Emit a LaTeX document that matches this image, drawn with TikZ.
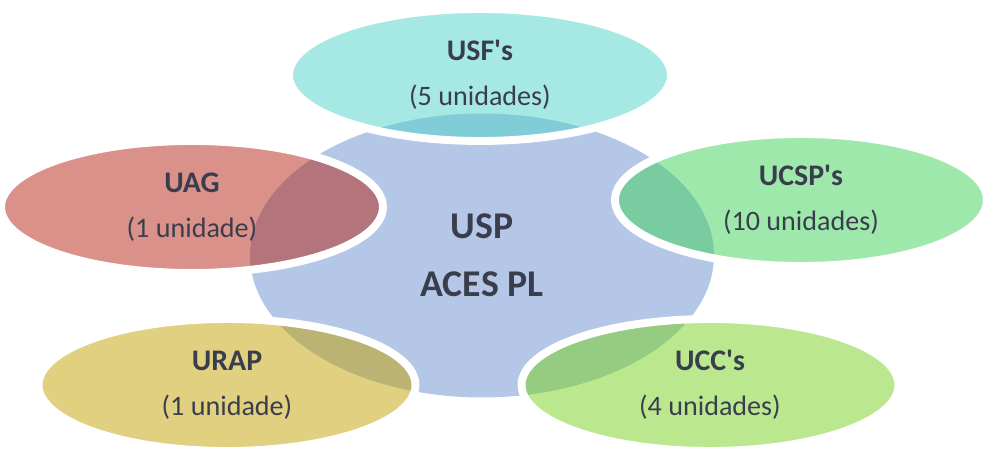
\documentclass[tikz,border=0pt]{standalone}
\usepackage{fontspec}
\setmainfont{Carlito}
\usetikzlibrary{shapes.geometric}
\definecolor{usptext}{RGB}{58,62,76}
\definecolor{uspblue}{RGB}{180,199,231}
\definecolor{usfcyan}{RGB}{77,209,201}
\definecolor{uagred}{RGB}{181,35,19}
\definecolor{ucspgreen}{RGB}{61,209,89}
\definecolor{uccgreen}{RGB}{119,209,31}
\definecolor{urapyellow}{RGB}{193,161,1}
\newcommand{\unitname}[1]{{\fontsize{17}{25.5}\selectfont\bfseries #1}}

\begin{document}
\begin{tikzpicture}[
    x=0.02cm, y=0.02cm,
    hub/.style={ellipse, fill=uspblue, inner sep=0pt, minimum width=9.28cm,
                minimum height=5.68cm, align=center, text=usptext,
                font=\bfseries\fontsize{21.5}{33}\selectfont},
    unit/.style={ellipse, draw=white, line width=4.5pt, inner sep=0pt,
                 fill opacity=0.5, draw opacity=1, text opacity=1,
                 minimum width=7.64cm, minimum height=2.64cm, align=center,
                 text=usptext, font=\fontsize{16}{25.5}\selectfont}
]
\useasboundingbox (0,0) rectangle (985,450);

% centre
\node[hub] (usp) at (482,194.5) {USP\\ACES PL};

% units round the centre
\node[unit, fill=usfcyan] (usf) at (480,375) {\unitname{USF\textquotesingle s}\\(5 unidades)};
\node[unit, fill=uagred] (uag) at (192,243) {\unitname{UAG}\\(1 unidade)};
\node[unit, fill=ucspgreen, minimum width=7.44cm] (ucsp) at (801,250) {\unitname{UCSP\textquotesingle s}\\(10 unidades)};
\node[unit, fill=urapyellow, minimum width=7.54cm] (urap) at (227,65) {\unitname{URAP}\\(1 unidade)};
\node[unit, fill=uccgreen, minimum width=7.54cm] (ucc) at (710,65) {\unitname{UCC\textquotesingle s}\\(4 unidades)};

\end{tikzpicture}
\end{document}
